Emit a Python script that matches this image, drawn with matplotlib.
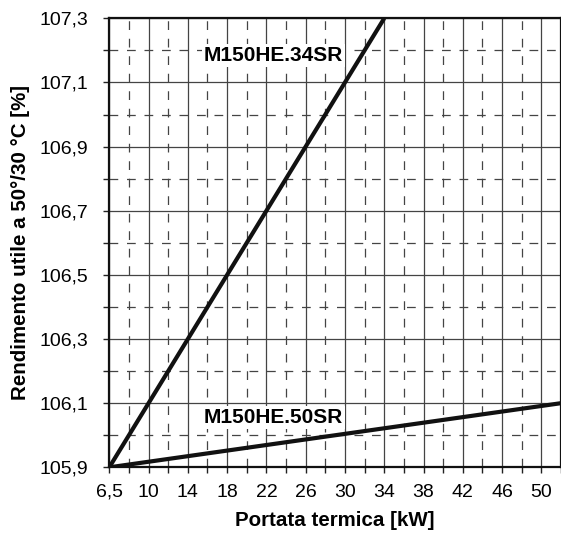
import numpy as np
import matplotlib
matplotlib.use("Agg")
import matplotlib.pyplot as plt

plt.rcParams['font.family'] = ['Liberation Sans', 'DejaVu Sans']

# Dati
x_34sr = [6.5, 34]
y_34sr = [105.9, 107.3]
x_50sr = [6.5, 52]
y_50sr = [105.9, 106.1]

x_ticks = [6.5, 10, 14, 18, 22, 26, 30, 34, 38, 42, 46, 50]
x_minor = [8.25, 12, 16, 20, 24, 28, 32, 36, 40, 44, 48, 52]
y_ticks = [105.9, 106.1, 106.3, 106.5, 106.7, 106.9, 107.1, 107.3]
y_minor = [106.0, 106.2, 106.4, 106.6, 106.8, 107.0, 107.2]


# asse x non lineare : 6.5 -> 10 occupa lo stesso spazio di 10 -> 14
def avanti(x):
    x = np.asarray(x, dtype=float)
    return np.where(x <= 10, (x - 6.5) / 3.5, 1 + (x - 10) / 4)


def indietro(p):
    p = np.asarray(p, dtype=float)
    return np.where(p <= 1, 6.5 + 3.5 * p, 10 + 4 * (p - 1))


fig = plt.figure(figsize=(5.61, 5.35), dpi=100)
ax = fig.add_axes([0.1948, 0.1265, 0.8052, 0.8393])
ax.set_xscale('function', functions=(avanti, indietro))

ax.plot(x_34sr, y_34sr, color='#111111', lw=3.0, solid_capstyle='butt', zorder=4)
ax.plot(x_50sr, y_50sr, color='#111111', lw=3.0, solid_capstyle='butt', zorder=4)

ax.set_xlim(6.5, 52)
ax.set_ylim(105.9, 107.3)

ax.set_xticks(x_ticks)
ax.set_xticks(x_minor, minor=True)
ax.set_yticks(y_ticks)
ax.set_yticks(y_minor, minor=True)
ax.set_xticklabels([("%g" % v).replace('.', ',') for v in x_ticks])
ax.set_yticklabels([("%.1f" % v).replace('.', ',') for v in y_ticks])
ax.xaxis.set_minor_formatter(plt.NullFormatter())

ax.tick_params(which='both', direction='out', length=4, width=1, color='#222222')
ax.tick_params(axis='x', which='major', labelsize=14, pad=8)
ax.tick_params(axis='y', which='major', labelsize=14, pad=11)

ax.grid(which='major', ls='-', color='#444444', lw=0.9)
ax.grid(which='minor', ls=(0, (7, 7)), color='#444444', lw=0.9)
ax.set_axisbelow(True)

for s in ax.spines.values():
    s.set_linewidth(1.6)
    s.set_color('#111111')

ax.text(22.7, 107.185, "M150HE.34SR", fontsize=15, fontweight='bold',
        ha='center', va='center', zorder=5,
        bbox=dict(facecolor='white', edgecolor='none', pad=1.5))
ax.text(22.7, 106.056, "M150HE.50SR", fontsize=15, fontweight='bold',
        ha='center', va='center', zorder=5,
        bbox=dict(facecolor='white', edgecolor='none', pad=1.5))

ax.set_xlabel("Portata termica [kW]", fontsize=14.8, fontweight='bold', labelpad=7)
ax.set_ylabel("Rendimento utile a 50°/30 °C [%]", fontsize=14.8, fontweight='bold', labelpad=7)

fig.savefig("out.png", dpi=100)
